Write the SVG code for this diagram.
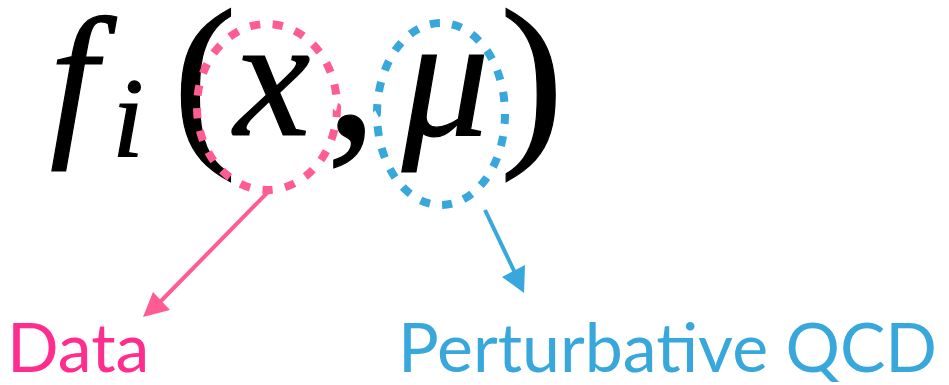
<svg xmlns="http://www.w3.org/2000/svg" width="949" height="385" viewBox="0 0 949 385">
<style>
.m{font-family:"Liberation Serif","Times New Roman",serif;fill:#000;stroke:#000;stroke-width:1.2}
.it{font-style:italic}
.lab{font-family:Lato,"Open Sans",sans-serif;font-size:68px}
.pink{fill:#ff2d8e}
.blue{fill:#38a7dc}
.ring{fill:none;stroke-width:8}
</style>
<rect width="949" height="385" fill="#fff"/>
<g id="formula">
<text class="m it" x="50" y="135" font-size="170">f</text>
<text class="m it" x="112" y="157" font-size="115">i</text>
<text class="m" x="173" y="141" font-size="191" stroke-width="0">(</text>
<text class="m it" x="234" y="135" font-size="172">x</text>
<text class="m" x="326" y="136" font-size="205">,</text>
<text class="m it" x="402" y="135" font-size="174">μ</text>
<text class="m" x="500" y="141" font-size="191" stroke-width="0">)</text>
</g>
<g id="ring-x">
<ellipse class="ring" cx="267" cy="107" rx="70" ry="83" stroke="#ff5c94" pathLength="21" stroke-dasharray="0.45 0.55"/>
</g>
<g id="ring-mu">
<ellipse class="ring" cx="441" cy="114" rx="64" ry="91" stroke="#38a7dc" pathLength="22" stroke-dasharray="0.45 0.55"/>
</g>
<g id="connectors">
<line x1="268" y1="192" x2="160" y2="302" stroke="#ff5c94" stroke-width="4"/>
<polygon points="143,317 153,292 170,310" fill="#ff5c94"/>
<line x1="485" y1="210" x2="516" y2="275" stroke="#38a7dc" stroke-width="4"/>
<polygon points="502,277 525,265 524,293" fill="#38a7dc"/>
</g>
<g id="data">
<text class="lab pink" x="7" y="372">Data</text>
</g>
<g id="pqcd">
<text class="lab blue" x="398" y="372">Perturbative QCD</text>
</g>
</svg>
